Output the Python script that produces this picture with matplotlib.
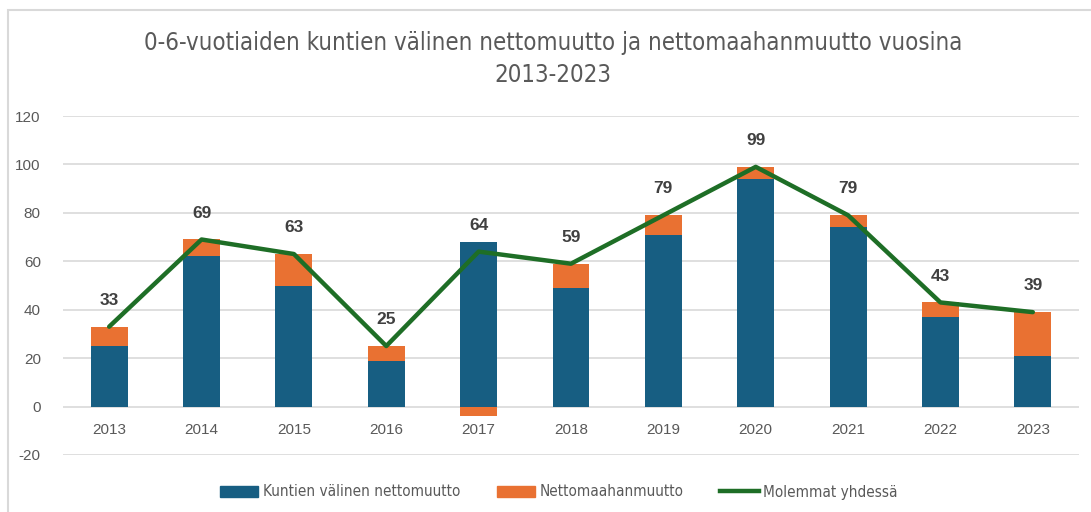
import matplotlib
matplotlib.use("Agg")
from matplotlib import pyplot as plt
from matplotlib import font_manager as fm
from matplotlib.patches import Patch, Rectangle
from matplotlib.lines import Line2D
import numpy as np

plt.rcParams['axes.unicode_minus'] = False

# Data
years = ['2013', '2014', '2015', '2016', '2017', '2018', '2019', '2020', '2021', '2022', '2023']
kuntien = [25, 62, 50, 19, 68, 49, 71, 94, 74, 37, 21]
maahan = [8, 7, 13, 6, -4, 10, 8, 5, 5, 6, 18]
yhdessa = [33, 69, 63, 25, 64, 59, 79, 99, 79, 43, 39]

blue = '#175E82'
orange = '#E97132'
green = '#1E6E26'
grey = '#595959'

# look for a narrow/condensed face for the title and legend
narrow = None
for f in sorted(fm.fontManager.ttflist, key=lambda f: f.fname):
    fn = f.fname.lower()
    if ('narrow' in fn or 'condensed' in fn) and not any(k in fn for k in ('bold', 'italic', 'oblique', 'light', 'semi', 'medium', 'black', 'thin')):
        narrow = f.fname
        break
if narrow:
    title_fp = fm.FontProperties(fname=narrow, size=17.2)
    leg_fp = fm.FontProperties(fname=narrow, size=11)
else:
    title_fp = fm.FontProperties(family='Liberation Sans', size=17.8)
    leg_fp = fm.FontProperties(family='Liberation Sans', size=11.5)

fig = plt.figure(figsize=(10.91, 5.12), dpi=100)
ax = fig.add_axes([63/1091, 1-455/512, (1079-63)/1091, (455-116)/512])

x = np.arange(len(years))
kun = np.array(kuntien)
maa = np.array(maahan)
# positive part stacks on the blue bar, negative part goes below zero
bottom = np.where(maa >= 0, kun, 0)
ax.bar(x, kun, width=0.4, color=blue, zorder=2)
ax.bar(x, maa, width=0.4, bottom=bottom, color=orange, zorder=2)
ax.plot(x, yhdessa, color=green, lw=3.2, zorder=3, solid_capstyle='round')

for xi, v in zip(x, yhdessa):
    ax.annotate(str(v), (xi, v), xytext=(0, 19), textcoords='offset points',
                ha='center', va='center', fontsize=12.5, fontweight='bold',
                color='#404040', family='Liberation Sans')

ax.set_xlim(-0.5, len(years) - 0.5)
ax.set_ylim(-20, 120)
ax.set_yticks(range(-20, 121, 20))
ax.grid(axis='y', color='#D9D9D9', lw=1.2, zorder=0)
ax.set_axisbelow(True)
for s in ax.spines.values():
    s.set_visible(False)
ax.tick_params(length=0, labelsize=11, colors=grey)
ax.tick_params(axis='y', pad=16)
ax.set_xticks([])
for xi, yl in zip(x, years):
    ax.text(xi, -9.5, yl, ha='center', va='center', fontsize=11, color=grey,
            family='Liberation Sans')
for lbl in ax.get_yticklabels():
    lbl.set_family('Liberation Sans')

fig.text(553/1091, 1-43/512, '0-6-vuotiaiden kuntien välinen nettomuutto ja nettomaahanmuutto vuosina',
         ha='center', va='center', color=grey, fontproperties=title_fp)
fig.text(553/1091, 1-75/512, '2013-2023', ha='center', va='center',
         color=grey, fontproperties=title_fp)

handles = [Patch(color=blue), Patch(color=orange), Line2D([], [], color=green, lw=3.2)]
labels = ['Kuntien välinen nettomuutto', 'Nettomaahanmuutto', 'Molemmat yhdessä']
fig.legend(handles, labels, loc='center', bbox_to_anchor=(559/1091, 1-492/512), ncol=3,
           frameon=False, handlelength=2.5, handleheight=0.7, columnspacing=2.4,
           handletextpad=0.3, prop=leg_fp, labelcolor=grey)

# light frame around chart area
fig.patches.append(Rectangle((8/1091, -0.1), 1.2, 1-10/512 + 0.1, transform=fig.transFigure,
                             fill=False, edgecolor='#D9D9D9', lw=1.5))

fig.savefig('out.png', dpi=100)
